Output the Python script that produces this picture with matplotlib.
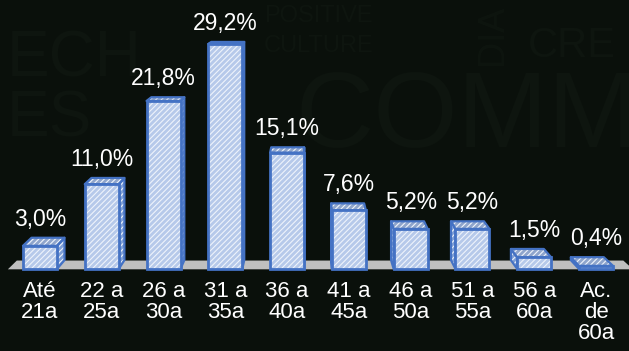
import numpy as np
import matplotlib
matplotlib.use("Agg")
import matplotlib.pyplot as plt
from matplotlib.patches import Polygon

plt.rcParams['font.family'] = ['Liberation Sans', 'DejaVu Sans']
plt.rcParams['hatch.linewidth'] = 0.8

categories = ["Até\n21a", "22 a\n25a", "26 a\n30a", "31 a\n35a", "36 a\n40a",
              "41 a\n45a", "46 a\n50a", "51 a\n55a", "56 a\n60a", "Ac.\nde\n60a"]
values = [3.0, 11.0, 21.8, 29.2, 15.1, 7.6, 5.2, 5.2, 1.5, 0.4]
labels = ["3,0%", "11,0%", "21,8%", "29,2%", "15,1%", "7,6%", "5,2%", "5,2%", "1,5%", "0,4%"]

bg = '#0a100b'
edge = '#4472c4'
front_fill = '#b6c9ea'
side_fill = '#7f9fd6'
top_fill = '#8fa5cc'
hatch_col = '#eef3fb'
floor_col = '#bfbfbf'

fig = plt.figure(figsize=(6.29, 3.51), dpi=100)
fig.patch.set_facecolor(bg)

# faint watermark words in the background
wm = '#0e150f'
for txt, x, y, fs, rot in [("POSITIVE", 0.42, 0.955, 17, 0), ("CULTURE", 0.42, 0.87, 17, 0),
                           ("DIA", 0.755, 0.90, 26, 90), ("CRE", 0.84, 0.87, 30, 0),
                           ("COMM", 0.47, 0.66, 78, 0), ("ECH", 0.01, 0.83, 46, 0),
                           ("ES", 0.01, 0.66, 46, 0)]:
    fig.text(x, y, txt, color=wm, fontsize=fs, rotation=rot, va='center', ha='left',
             family='Liberation Sans', zorder=-1)

ax = fig.add_axes([0, 0, 1, 1])
ax.set_facecolor('none')
ax.set_xlim(-0.647, 9.534)
ax.set_ylim(-10.65, 34.9)
ax.axis('off')

x = np.arange(len(values))
w = 0.55
# perspective: back faces shrink towards a vanishing point
vx, vy, s = 4.32, 37.9, 0.03


def back(px, py):
    return px + s * (vx - px), py + s * (vy - py)


# floor
fx0, fx1 = -0.52, 9.6
fy = -0.05
b0 = back(fx0, fy)
b1 = back(fx1, fy)
ax.add_patch(Polygon([(fx0, fy), (fx1, fy), (b1[0], b1[1]), (b0[0], b0[1])],
                     closed=True, facecolor=floor_col, edgecolor='none', zorder=1))

for i, v in enumerate(values):
    l, r = x[i] - w / 2, x[i] + w / 2
    tl, tr = back(l, v), back(r, v)
    bl, br = back(l, 0), back(r, 0)
    # side face
    if vx > r:
        side = [(r, 0), (r, v), tr, br]
    else:
        side = [(l, 0), (l, v), tl, bl]
    top = [(l, v), (r, v), tr, tl]
    for poly, fc in [(side, side_fill), (top, top_fill)]:
        ax.add_patch(Polygon(poly, closed=True, facecolor=fc, edgecolor=hatch_col,
                             hatch='//////', linewidth=0, zorder=2))
        ax.add_patch(Polygon(poly, closed=True, fill=False, edgecolor=edge,
                             linewidth=1.6, joinstyle='round', zorder=2))
    ax.annotate(labels[i], (x[i], max(tl[1], tr[1])), xytext=(0, 5),
                textcoords='offset points', ha='center', va='bottom',
                color='white', fontsize=16.5, zorder=5)

ax.bar(x, values, width=w, color=front_fill, edgecolor=hatch_col, hatch='//////',
       linewidth=0, zorder=3)
ax.bar(x, values, width=w, fill=False, edgecolor=edge, linewidth=2, zorder=3)

for i, c in enumerate(categories):
    ax.annotate(c, (x[i], 0), xytext=(0, -9), textcoords='offset points',
                ha='center', va='top', color='white', fontsize=16,
                linespacing=1.0, zorder=5)

fig.savefig('out.png', dpi=100, facecolor=bg)
